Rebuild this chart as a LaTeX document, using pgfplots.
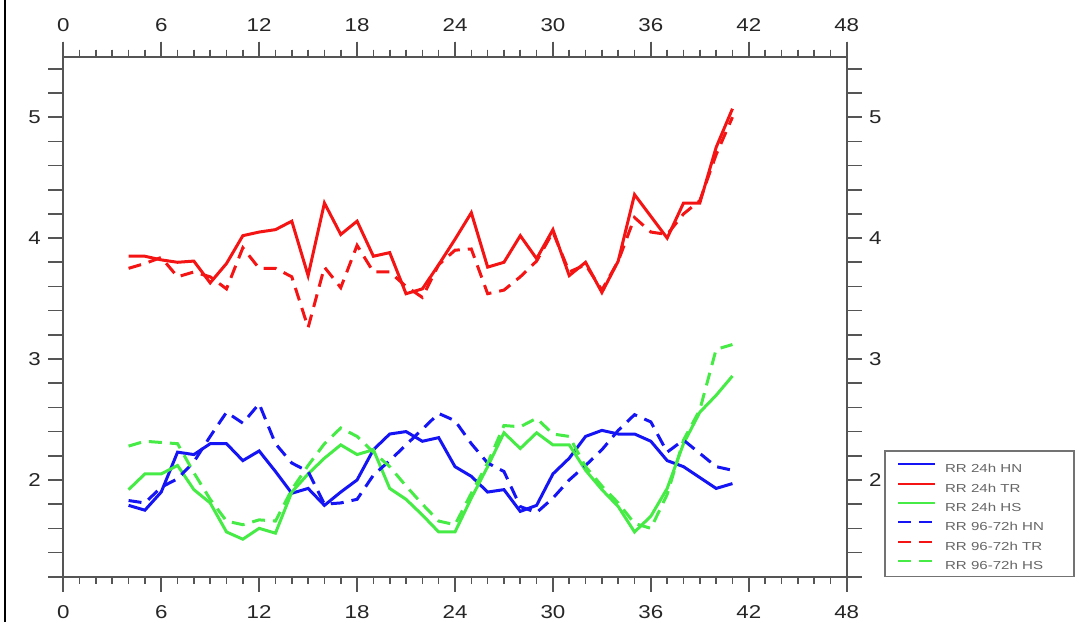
\documentclass[border=0pt]{standalone}
\usepackage{fontspec}
\setmainfont{Liberation Sans}
\newfontfamily\ncl[FakeStretch=1.2]{Liberation Sans}
\newfontfamily\legfont[FakeStretch=1.3]{Liberation Sans}
\usepackage{pgfplots}
\usepackage{pgfplotstable}
\pgfplotsset{compat=1.18}

\definecolor{rrblue}{RGB}{20,20,245}
\definecolor{rrred}{RGB}{245,20,20}
\definecolor{rrgreen}{RGB}{70,235,70}
\definecolor{axgray}{RGB}{85,85,85}

% x  24h: HN TR HS   96-72h: HN TR HS
\pgfplotstableread{
x  hnA  trA  hsA  hnB  trB  hsB
4  1.79 3.85 1.92 1.83 3.75 2.28
5  1.75 3.85 2.05 1.81 3.79 2.32
6  1.90 3.82 2.05 1.94 3.84 2.31
7  2.23 3.80 2.12 2.01 3.68 2.30
8  2.21 3.81 1.92 2.15 3.72 2.06
9  2.30 3.63 1.81 2.36 3.68 1.84
10 2.30 3.79 1.57 2.56 3.58 1.66
11 2.16 4.02 1.51 2.47 3.92 1.63
12 2.24 4.05 1.60 2.63 3.75 1.67
13 2.07 4.07 1.56 2.30 3.75 1.66
14 1.89 4.14 1.90 2.14 3.68 1.92
15 1.93 3.69 2.05 2.07 3.26 2.12
16 1.79 4.29 2.18 1.80 3.76 2.30
17 1.90 4.03 2.29 1.81 3.59 2.43
18 2.00 4.14 2.21 1.84 3.94 2.36
19 2.25 3.85 2.25 2.04 3.72 2.23
20 2.38 3.88 1.93 2.16 3.72 2.11
21 2.40 3.54 1.84 2.29 3.60 1.95
22 2.32 3.58 1.71 2.42 3.51 1.80
23 2.35 3.78 1.57 2.55 3.78 1.66
24 2.11 3.99 1.57 2.49 3.90 1.63
25 2.03 4.21 1.85 2.30 3.91 1.89
26 1.90 3.76 2.11 2.14 3.54 2.14
27 1.92 3.80 2.39 2.07 3.57 2.45
28 1.74 4.02 2.26 1.78 3.68 2.44
29 1.79 3.83 2.39 1.73 3.81 2.51
30 2.05 4.07 2.29 1.85 4.05 2.38
31 2.18 3.69 2.29 2.00 3.72 2.36
32 2.36 3.80 2.08 2.12 3.78 2.11
33 2.41 3.55 1.92 2.25 3.57 1.95
34 2.38 3.81 1.78 2.41 3.81 1.81
35 2.38 4.36 1.57 2.54 4.17 1.64
36 2.32 4.18 1.70 2.48 4.05 1.60
37 2.16 4.00 1.93 2.23 4.03 1.88
38 2.11 4.29 2.30 2.33 4.20 2.33
39 2.02 4.29 2.56 2.22 4.31 2.58
40 1.93 4.75 2.70 2.11 4.69 3.08
41 1.97 5.07 2.86 2.08 5.00 3.12
}\rrdata

\pgfplotsset{
  rrframe/.style={
    scale only axis,
    width=391.7pt, height=260pt,
    xmin=0, xmax=48, ymin=1.2, ymax=5.5,
    xtick={0,6,...,48}, minor x tick num=5,
    ytick={1.2,1.4,1.6,1.8,2,2.2,2.4,2.6,2.8,3,3.2,3.4,3.6,3.8,4,4.2,4.4,4.6,4.8,5,5.2,5.4},
    yticklabels={,,,,2,,,,,3,,,,,4,,,,,5,,},
    xtick pos=both, ytick pos=both,
    tick align=outside,
    major tick length=7.5pt, minor tick length=3.5pt,
    axis line style={axgray, line width=1pt},
    every tick/.style={axgray, line width=0.8pt},
    tick label style={font=\ncl\fontsize{9.3}{10}\selectfont, text=black!85, inner sep=0pt},
    /pgf/number format/assume math mode=true,
  },
}

\begin{document}
\begin{tikzpicture}
\begin{axis}[
    rrframe, name=ax,
    xticklabel pos=lower, yticklabel pos=left,
    xticklabel shift=6.7pt, yticklabel shift=3.5pt,
    legend style={draw=none, fill=none, at={(1.0638,0.219)}, anchor=north west,
      inner sep=0pt, font=\legfont\fontsize{5.8}{6}\selectfont, text=black!60,
      nodes={inner sep=0pt, text height=4.2pt, text depth=0pt},
      row sep=5pt, column sep=4.7pt},
    legend cell align=left,
    legend image code/.code={\draw[#1, line width=1pt] (0pt,2.1pt) -- (18.3pt,2.1pt);},
]
\addplot[rrblue, line width=1.5pt] table[x=x, y=hnA] {\rrdata};
\addlegendentry{RR 24h HN}
\addplot[rrred, line width=1.5pt] table[x=x, y=trA] {\rrdata};
\addlegendentry{RR 24h TR}
\addplot[rrgreen, line width=1.5pt] table[x=x, y=hsA] {\rrdata};
\addlegendentry{RR 24h HS}
\addplot[rrblue, line width=1.5pt, dash pattern=on 6.5pt off 4pt] table[x=x, y=hnB] {\rrdata};
\addlegendentry{RR 96-72h HN}
\addplot[rrred, line width=1.5pt, dash pattern=on 6.5pt off 4pt] table[x=x, y=trB] {\rrdata};
\addlegendentry{RR 96-72h TR}
\addplot[rrgreen, line width=1.5pt, dash pattern=on 6.5pt off 4pt] table[x=x, y=hsB] {\rrdata};
\addlegendentry{RR 96-72h HS}
\end{axis}
\begin{axis}[
    rrframe,
    xticklabel pos=upper, yticklabel pos=right,
    xticklabel shift=5pt, yticklabel shift=3.5pt,
]
\end{axis}
% legend frame and page edge
\draw[black!55, line width=0.6pt] ([shift={(410.85pt,0pt)}]ax.south west) rectangle ([shift={(505.35pt,62.85pt)}]ax.south west);
\draw[black, line width=1pt] ([shift={(-29.15pt,-22.65pt)}]ax.south west) -- ++(0,311pt);
\pgfresetboundingbox
\path[use as bounding box] ([shift={(-31.65pt,-22.65pt)}]ax.south west) rectangle ([shift={(510.85pt,288.35pt)}]ax.south west);
\end{tikzpicture}
\end{document}
